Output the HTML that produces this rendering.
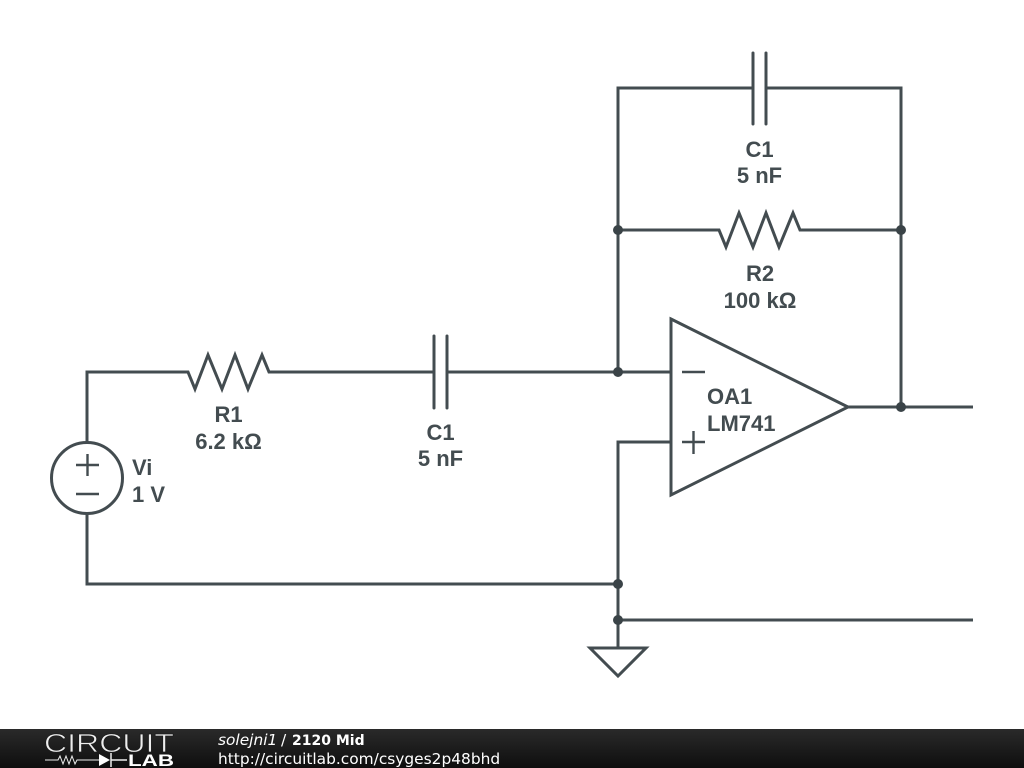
<!DOCTYPE html>
<html>
<head>
<meta charset="utf-8">
<style>
html,body{margin:0;padding:0;background:#fff;width:1024px;height:768px;overflow:hidden}
svg{display:block;position:absolute;left:0;top:0}
.w{fill:none;stroke:#434c50;stroke-width:3;stroke-linejoin:miter;stroke-linecap:butt}
.s{stroke-width:2.400}
.r{stroke-linecap:round}
.d{fill:#3a4347}
.t{font-family:"Liberation Sans",sans-serif;font-weight:bold;font-size:22px;fill:#434c50}
.m{text-anchor:middle}
.f{font-family:"DejaVu Sans",sans-serif;font-size:15.400px;fill:#fff}
</style>
</head>
<body>
<svg width="1024" height="768" viewBox="0 0 1024 768" xmlns="http://www.w3.org/2000/svg">
<defs>
<linearGradient id="g" x1="0" y1="0" x2="0" y2="1">
<stop offset="0" stop-color="#2a2a2a"/>
<stop offset="1" stop-color="#0e0e0e"/>
</linearGradient>
</defs>

<!-- Wires -->
<path class="w" d="M87 442V372H188l7 17 13-34 14 34 13-34 13 34 14-34 7 17H434"/>
<path class="w" d="M447 372H671"/>
<path class="w r" d="M434 336V408M447 336V408"/>
<path class="w" d="M87 514V584H618"/>
<path class="w" d="M618 372V88H753M766 88H901V407"/>
<path class="w r" d="M753 53V124M766 53V124"/>
<path class="w" d="M618 230H719l7 17 13-34 14 34 13-34 13 34 14-34 7 17H901"/>
<path class="w" d="M671 442H618V648"/>
<path class="w" d="M618 620H973"/>
<path class="w" d="M848 407H973"/>

<!-- Ground -->
<path class="w" d="M590 648H646L618 676Z"/>

<!-- Op amp -->
<path class="w" d="M671 319L848 407L671 495Z"/>
<path class="w s" d="M682 372H705M682 442H705M693.500 431V454"/>

<!-- Source -->
<circle class="w" cx="87" cy="478" r="35.500"/>
<path class="w s" d="M76 465H99M87.500 454V476M76 494H99"/>

<!-- Junctions -->
<circle class="d" cx="618" cy="230" r="5"/>
<circle class="d" cx="901" cy="230" r="5"/>
<circle class="d" cx="618" cy="372" r="5"/>
<circle class="d" cx="901" cy="407" r="5"/>
<circle class="d" cx="618" cy="584" r="5"/>
<circle class="d" cx="618" cy="620" r="5"/>

<!-- Labels -->
<text class="t m" x="759.500" y="157">C1</text>
<text class="t m" x="759.500" y="183">5 nF</text>
<text class="t m" x="760" y="281">R2</text>
<text class="t m" x="760" y="308">100 kΩ</text>
<text class="t m" x="228.500" y="422">R1</text>
<text class="t m" x="228.500" y="449">6.2 kΩ</text>
<text class="t m" x="440.500" y="440">C1</text>
<text class="t m" x="440.500" y="466">5 nF</text>
<text class="t" x="132" y="475">Vi</text>
<text class="t" x="132" y="502">1 V</text>
<text class="t" x="707" y="404">OA1</text>
<text class="t" x="707" y="431">LM741</text>

<!-- Footer -->
<rect x="0" y="729" width="1024" height="39" fill="url(#g)"/>
<text x="44" y="752" textLength="130" lengthAdjust="spacingAndGlyphs" font-family="Liberation Sans, sans-serif" font-size="26" fill="#eee" stroke="#1c1c1c" stroke-width="0.700">CIRCUIT</text>
<path d="M45 760H58l2-4 3 8 3-8 3 8 3-8 3 8 2-4H100" fill="none" stroke="#eee" stroke-width="1"/>
<path d="M99 754L110 760L99 766Z" fill="#fff"/>
<path d="M111 753V767M111 760H127" fill="none" stroke="#eee" stroke-width="1.500"/>
<text x="128" y="766" textLength="46" lengthAdjust="spacingAndGlyphs" font-family="Liberation Sans, sans-serif" font-weight="bold" font-size="17" fill="#fff">LAB</text>
<text class="f" x="218" y="745" font-style="italic">solejni1</text>
<text class="f" x="281" y="745">/</text>
<text class="f" x="292" y="745" font-weight="bold" style="font-size:14px">2120 Mid</text>
<text class="f" x="218" y="764">http://circuitlab.com/csyges2p48bhd</text>
</svg>
</body>
</html>
